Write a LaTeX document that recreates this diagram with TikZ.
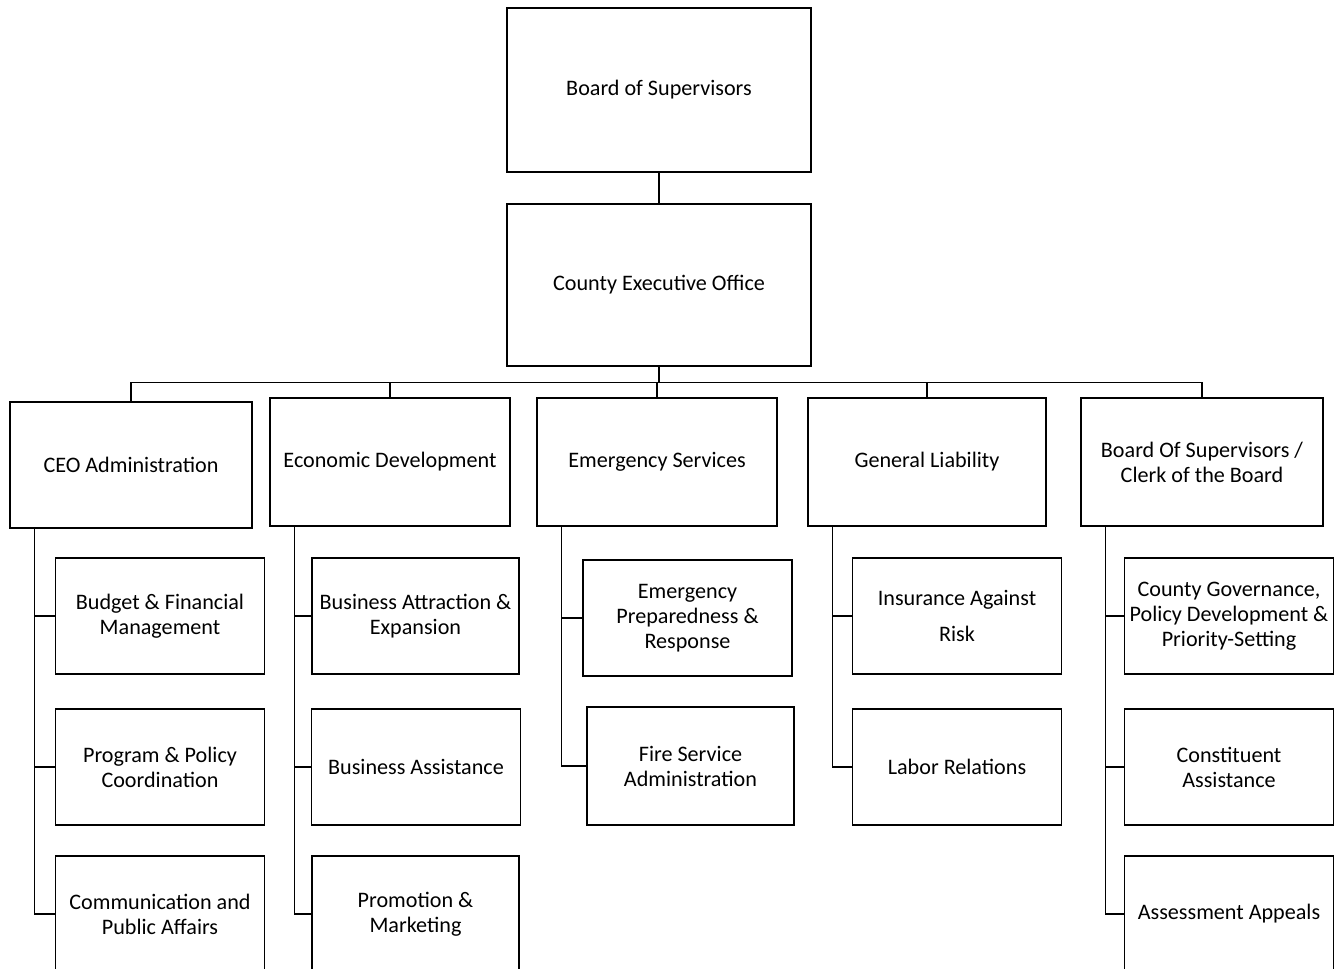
\documentclass[tikz,border=0pt]{standalone}
\usepackage{fontspec}
\setmainfont{Carlito}
\usetikzlibrary{calc}

\begin{document}
\begin{tikzpicture}[x=0.02cm,y=-0.02cm,
  box/.style={draw,line width=0.8pt,align=center,inner sep=1pt,
    font=\fontsize{12.6}{14.2}\selectfont},
  unit/.style={box,minimum width=209*\u,minimum height=116*\u},
  link/.style={line width=0.8pt}]

\def\u{0.2mm} % one pixel of the page
\useasboundingbox (0,0) rectangle (1341,974);
\clip (0,0) rectangle (1341,968); % lowest row runs off the page

% top of the chart
\node[box,minimum width=304*\u,minimum height=164*\u] (bos) at (659,90) {Board of Supervisors};
\node[box,minimum width=304*\u,minimum height=162*\u] (ceo) at (659,285) {County Executive Office};
\draw[link] (bos.south) -- (ceo.south |- ceo.north);

% departments
\node[box,minimum width=242*\u,minimum height=126*\u] (ceoadm) at (131,465) {CEO Administration};
\node[box,minimum width=240*\u,minimum height=128*\u] (econ) at (390,462) {Economic Development};
\node[box,minimum width=240*\u,minimum height=128*\u] (emerg) at (657,462) {Emergency Services};
\node[box,minimum width=238*\u,minimum height=128*\u] (liab) at (927,462) {General Liability};
\node[box,minimum width=242*\u,minimum height=128*\u] (clerk) at (1202,462) {Board Of Supervisors /\\Clerk of the Board};
\foreach \d in {ceoadm,econ,emerg,liab,clerk}
  \draw[link] (ceo.south) -- ++(0,16) -| (\d.north);

% units under each department
\node[unit] (budget) at (160,616) {Budget \& Financial\\Management};
\node[unit] (progpol) at (160,767) {Program \& Policy\\Coordination};
\node[unit] (comm) at (160,914) {Communication and\\Public Affairs};
\node[unit,minimum width=207*\u] (attract) at (415.5,616) {Business Attraction \&\\Expansion};
\node[unit] (assist) at (416,767) {Business Assistance};
\node[unit,minimum width=207*\u] (promo) at (415.5,914) {Promotion \&\\Marketing};
\node[unit] (prep) at (687.5,618) {Emergency\\Preparedness \&\\Response};
\node[unit,minimum width=207*\u,minimum height=118*\u] (fire) at (690.5,766) {Fire Service\\Administration};
\node[unit] (insur) at (957,616) {Insurance Against\\[6pt]Risk};
\node[unit] (labor) at (957,767) {Labor Relations};
\node[unit] (govern) at (1229,616) {County Governance,\\Policy Development \&\\Priority-Setting};
\node[unit] (constit) at (1229,767) {Constituent\\Assistance};
\node[unit] (appeals) at (1229,914) {Assessment Appeals};

\foreach \d/\k in {ceoadm/budget,ceoadm/progpol,ceoadm/comm,
    econ/attract,econ/assist,econ/promo,emerg/prep,emerg/fire,
    liab/insur,liab/labor,clerk/govern,clerk/constit,clerk/appeals}
  \draw[link] ([xshift=25*\u]\d.south west) |- (\k.west);
\end{tikzpicture}
\end{document}
